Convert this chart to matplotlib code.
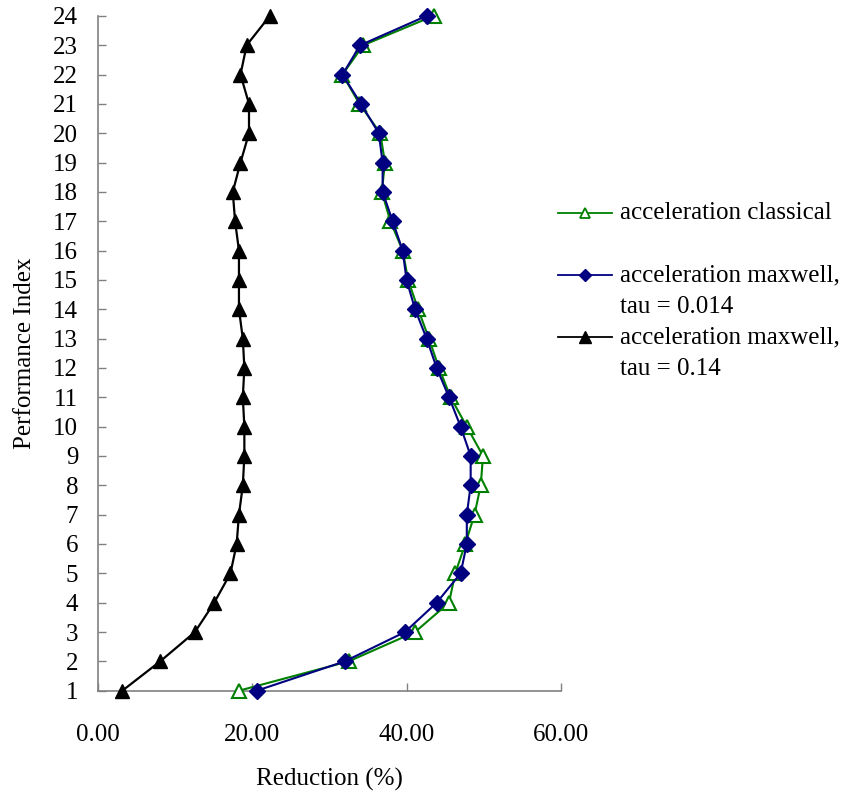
import numpy as np
import matplotlib
matplotlib.use('Agg')
import matplotlib.pyplot as plt
from matplotlib.lines import Line2D

plt.rcParams['font.family'] = ['Liberation Serif', 'DejaVu Serif']

# Datos
indice = np.arange(1, 25)

clasica = [18.3, 32.5, 41.1, 45.5, 46.3, 47.6, 48.8, 49.6, 49.9, 47.8, 45.7, 44.2,
           42.9, 41.5, 40.2, 39.5, 37.9, 36.8, 37.2, 36.6, 33.9, 31.7, 34.4, 43.5]
maxwell_0014 = [20.6, 32.0, 39.8, 43.9, 47.0, 47.8, 47.8, 48.3, 48.3, 47.0, 45.5, 43.9,
                42.6, 41.1, 40.0, 39.5, 38.2, 36.9, 36.9, 36.4, 34.1, 31.7, 34.0, 42.6]
maxwell_014 = [3.2, 8.1, 12.6, 15.1, 17.2, 18.0, 18.3, 18.8, 19.0, 19.0, 18.8, 19.0,
               18.8, 18.3, 18.3, 18.3, 17.8, 17.5, 18.5, 19.6, 19.6, 18.5, 19.3, 22.3]

etiquetas = ['acceleration classical',
             'acceleration maxwell,\ntau = 0.014',
             'acceleration maxwell,\ntau = 0.14']

verde = '#008000'
azul = '#000080'
gris = '#808080'

fig = plt.figure(figsize=(8.48, 7.93), dpi=100)
ax = fig.add_axes([0.1151, 0.129, 0.5465, 0.851])

ax.plot(clasica, indice, '-', color=verde, linewidth=1.5, marker='^', markersize=10,
        markerfacecolor='white', markeredgecolor=verde, markeredgewidth=1.5, clip_on=False, zorder=3)
ax.plot(maxwell_0014, indice, '-', color=azul, linewidth=1.5, marker='D', markersize=8,
        markerfacecolor=azul, markeredgecolor=azul, clip_on=False, zorder=4)
ax.plot(maxwell_014, indice, '-', color='black', linewidth=1.6, marker='^', markersize=10,
        markerfacecolor='black', markeredgecolor='black', clip_on=False, zorder=5)

ax.set_xlim(0, 60)
ax.set_ylim(1, 24)
ax.set_xticks([0, 20, 40, 60])
ax.set_xticklabels(['%.2f' % v for v in [0, 20, 40, 60]])
ax.set_yticks(indice)

for s in ['top', 'right']:
    ax.spines[s].set_visible(False)
for s in ['left', 'bottom']:
    ax.spines[s].set_color(gris)
    ax.spines[s].set_linewidth(1.2)

ax.tick_params(axis='both', direction='in', length=6, width=1, color=gris, labelsize=18)
ax.tick_params(axis='y', pad=14)
ax.tick_params(axis='x', pad=24)

ax.set_xlabel('Reduction (%)', fontsize=18, labelpad=16)
ax.set_ylabel('Performance Index', fontsize=18, labelpad=12)

# Leyenda dibujada a mano (marcador alineado con la primera linea)
estilos = [dict(color=verde, marker='^', markersize=7, markerfacecolor='white',
                markeredgecolor=verde, markeredgewidth=1.3),
           dict(color=azul, marker='D', markersize=6, markerfacecolor=azul, markeredgecolor=azul),
           dict(color='black', marker='^', markersize=8, markerfacecolor='black', markeredgecolor='black')]
filas_y = [213, 275, 337]
for est, lab, yp in zip(estilos, etiquetas, filas_y):
    yf = 1 - yp / 793
    fig.add_artist(Line2D([558 / 848, 612 / 848], [yf, yf], linewidth=1.3, color=est['color']))
    fig.add_artist(Line2D([585 / 848], [yf], linestyle='none', **est))
    fig.text(620 / 848, yf + 11 / 793, lab, fontsize=18, va='top', ha='left', linespacing=1.6)

fig.savefig('out.png', dpi=100)
